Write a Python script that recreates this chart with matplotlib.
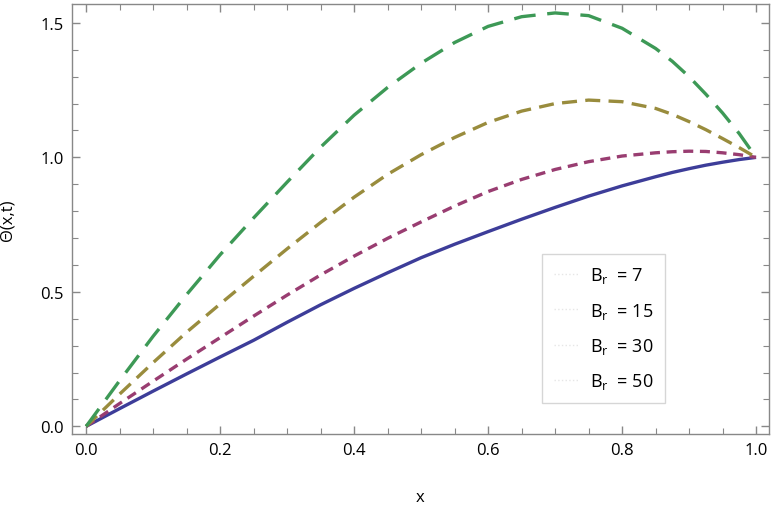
import numpy as np
import matplotlib
matplotlib.use("Agg")
import matplotlib.pyplot as plt
from matplotlib.lines import Line2D
from matplotlib.ticker import MultipleLocator

plt.rcParams['font.family'] = ['Open Sans', 'DejaVu Sans']

# values
x = [0.0, 0.05, 0.1, 0.15, 0.2, 0.25, 0.3, 0.35, 0.4, 0.45, 0.5,
     0.55, 0.6, 0.65, 0.7, 0.75, 0.8, 0.85, 0.875, 0.9, 0.925, 0.95, 0.975, 1.0]
br7 = [0.0, 0.066, 0.131, 0.195, 0.258, 0.32, 0.387, 0.452, 0.513, 0.571, 0.627,
       0.677, 0.724, 0.77, 0.814, 0.856, 0.894, 0.928, 0.944, 0.958, 0.971, 0.982, 0.992, 1.0]
br15 = [0.0, 0.085, 0.168, 0.25, 0.33, 0.41, 0.488, 0.563, 0.633, 0.699, 0.76,
        0.819, 0.873, 0.918, 0.955, 0.984, 1.005, 1.017, 1.021, 1.023, 1.022, 1.017, 1.01, 1.0]
br30 = [0.0, 0.12, 0.237, 0.35, 0.455, 0.558, 0.66, 0.758, 0.852, 0.937, 1.01,
        1.074, 1.13, 1.172, 1.2, 1.213, 1.207, 1.182, 1.16, 1.133, 1.103, 1.07, 1.036, 1.0]
br50 = [0.0, 0.17, 0.335, 0.49, 0.638, 0.775, 0.908, 1.038, 1.157, 1.26, 1.35,
        1.427, 1.487, 1.523, 1.537, 1.527, 1.48, 1.405, 1.357, 1.3, 1.235, 1.165, 1.088, 1.0]
labels = ['B$_\\mathregular{r}$  = 7', 'B$_\\mathregular{r}$  = 15',
          'B$_\\mathregular{r}$  = 30', 'B$_\\mathregular{r}$  = 50']

colors = ['#3d3d99', '#993d71', '#998c3d', '#3d9956']
dashes = [None, (3.0, 2.0), (4.5, 2.5), (6.5, 3.5)]

fig = plt.figure(figsize=(7.75, 5.06), dpi=100)
ax = fig.add_axes([0.093, 0.140, 0.899, 0.850])

for ys, c, d in zip([br7, br15, br30, br50], colors, dashes):
    if d is None:
        ax.plot(x, ys, color=c, lw=2.4, solid_capstyle='butt')
    else:
        ax.plot(x, ys, color=c, lw=2.4, dashes=d, dash_capstyle='butt')

ax.set_xlim(-0.021, 1.019)
ax.set_ylim(-0.029, 1.570)

ax.xaxis.set_major_locator(MultipleLocator(0.2))
ax.xaxis.set_minor_locator(MultipleLocator(0.05))
ax.yaxis.set_major_locator(MultipleLocator(0.5))
ax.yaxis.set_minor_locator(MultipleLocator(0.1))
ax.set_xticklabels([f"{v:.1f}" for v in ax.get_xticks()])
ax.set_yticklabels([f"{v:.1f}" for v in ax.get_yticks()])

ax.tick_params(which='both', direction='in', top=True, right=True,
               color='#888888', labelsize=12, labelcolor='black')
ax.tick_params(which='major', length=6, width=1, pad=6)
ax.tick_params(which='minor', length=4, width=0.8)
for s in ax.spines.values():
    s.set_color('#888888')
    s.set_linewidth(1.0)

ax.set_xlabel('x', fontsize=12, labelpad=22)
ax.set_ylabel('Θ(x,t)', fontsize=12, labelpad=18)

handles = [Line2D([0], [0], color='#e6e6e6', lw=1, ls=':') for _ in labels]
leg = ax.legend(handles, labels, loc='lower right', bbox_to_anchor=(0.851, 0.072),
                borderaxespad=0, fontsize=13, frameon=True, fancybox=False,
                handlelength=1.4, handletextpad=0.6, labelspacing=0.85, borderpad=0.65)
leg.get_frame().set_edgecolor('#cccccc')
leg.get_frame().set_linewidth(1.0)

fig.savefig('out.png', dpi=100)
